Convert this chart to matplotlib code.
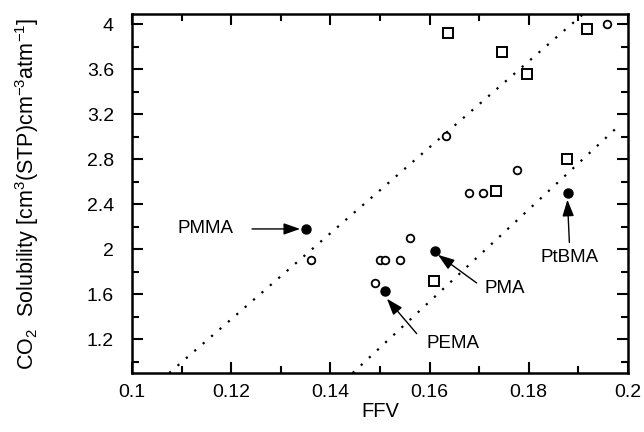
import matplotlib
matplotlib.use("Agg")
import matplotlib.pyplot as plt
from matplotlib.ticker import MultipleLocator, FixedLocator

plt.rcParams['font.family'] = ['Liberation Sans', 'DejaVu Sans']
plt.rcParams['mathtext.fontset'] = 'custom'
plt.rcParams['mathtext.rm'] = 'Liberation Sans'

# Data
open_circle_ffv = [0.136, 0.149, 0.150, 0.151, 0.154, 0.156, 0.1633, 0.168, 0.1707, 0.1777, 0.1957]
open_circle_sol = [1.90, 1.70, 1.90, 1.90, 1.90, 2.10, 3.01, 2.50, 2.50, 2.70, 4.00]
square_ffv = [0.1609, 0.1735, 0.1638, 0.1747, 0.1796, 0.1878, 0.1917]
square_sol = [1.72, 2.52, 3.92, 3.75, 3.56, 2.80, 3.96]
solid_names = ["PMMA", "PEMA", "PMA", "PtBMA"]
solid_ffv = [0.135, 0.151, 0.161, 0.188]
solid_sol = [2.18, 1.63, 1.98, 2.50]
line1_ffv = [0.1075, 0.1910]
line1_sol = [0.90, 4.09]
line2_ffv = [0.1445, 0.1985]
line2_sol = [0.90, 3.11]
x_ticks = [0.1, 0.12, 0.14, 0.16, 0.18, 0.2]
y_ticks = [1.2, 1.6, 2.0, 2.4, 2.8, 3.2, 3.6, 4.0]
x_ticklabels = ["0.1", "0.12", "0.14", "0.16", "0.18", "0.2"]
y_ticklabels = ["1.2", "1.6", "2", "2.4", "2.8", "3.2", "3.6", "4"]

fig = plt.figure(figsize=(6.44, 4.32), dpi=100)
ax = fig.add_axes([0.205, 0.1366, 0.770, 0.831])

ax.plot(line1_ffv, line1_sol, color='black', linestyle=(0, (1, 4)), linewidth=1.6)
ax.plot(line2_ffv, line2_sol, color='black', linestyle=(0, (1, 4)), linewidth=1.6)

ax.plot(open_circle_ffv, open_circle_sol, 'o', markersize=5.5, markerfacecolor='white',
        markeredgecolor='black', markeredgewidth=1.3, linestyle='none')
ax.plot(square_ffv, square_sol, 's', markersize=6.5, markerfacecolor='white',
        markeredgecolor='black', markeredgewidth=1.4, linestyle='none')
ax.plot(solid_ffv, solid_sol, 'o', markersize=6.5, color='black', linestyle='none')

# annotations: (text position, arrow start)
label_pos = {"PMMA": (0.1149, 2.18), "PEMA": (0.1647, 1.16), "PMA": (0.1752, 1.65), "PtBMA": (0.1883, 1.93)}
arrow_tip = {"PMMA": (0.1339, 2.18), "PEMA": (0.1514, 1.56), "PMA": (0.1617, 1.95), "PtBMA": (0.1878, 2.44)}
arrow_start = {"PMMA": (0.1242, 2.18), "PEMA": (0.1574, 1.25), "PMA": (0.1695, 1.70), "PtBMA": (0.1882, 2.06)}
for name in solid_names:
    ax.text(*label_pos[name], name, ha='center', va='center', fontsize=13.5)
    ax.annotate("", xy=arrow_tip[name], xytext=arrow_start[name],
                arrowprops=dict(arrowstyle='-|>,head_length=1.0,head_width=0.35',
                                color='black', lw=1.0, shrinkA=0, shrinkB=0))

ax.set_xlim(0.1, 0.2)
ax.set_ylim(0.9, 4.09)
ax.xaxis.set_major_locator(FixedLocator(x_ticks))
ax.set_xticklabels(x_ticklabels)
ax.xaxis.set_minor_locator(MultipleLocator(0.01))
ax.yaxis.set_major_locator(FixedLocator(y_ticks))
ax.set_yticklabels(y_ticklabels)
ax.yaxis.set_minor_locator(MultipleLocator(0.2))

ax.tick_params(which='both', direction='in', top=True, right=True, width=1.5, labelsize=14)
ax.tick_params(which='major', length=8)
ax.tick_params(axis='x', which='major', pad=8)
ax.tick_params(axis='y', which='major', pad=13)
ax.tick_params(which='minor', length=5)
for s in ax.spines.values():
    s.set_linewidth(1.8)

ax.set_xlabel("FFV", fontsize=14.5)
ax.xaxis.set_label_coords(0.5, -0.082)
ax.set_ylabel(r"CO$_2$  Solubility [cm$^3$(STP)cm$^{-3}$atm$^{-1}$]", fontsize=15.5)
ax.yaxis.set_label_coords(-0.184, 0.50)

fig.savefig("out.png", dpi=100)
